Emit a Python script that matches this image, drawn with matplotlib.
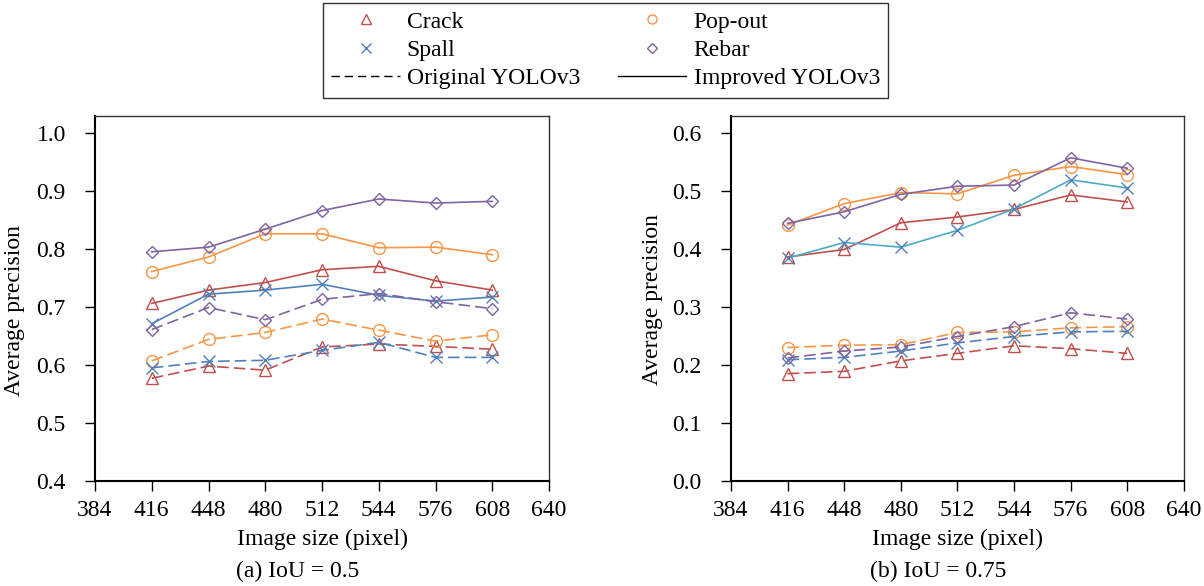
import matplotlib
matplotlib.use("Agg")
import matplotlib.pyplot as plt
from matplotlib.lines import Line2D

plt.rcParams['font.family'] = ['Liberation Serif', 'DejaVu Serif']

sizes = [416, 448, 480, 512, 544, 576, 608]
xticks = [384, 416, 448, 480, 512, 544, 576, 608, 640]

# IoU = 0.5
orig_05 = {
    "Crack":   [0.577, 0.598, 0.591, 0.631, 0.636, 0.632, 0.627],
    "Pop-out": [0.607, 0.644, 0.656, 0.679, 0.660, 0.641, 0.652],
    "Spall":   [0.595, 0.606, 0.608, 0.625, 0.639, 0.613, 0.613],
    "Rebar":   [0.661, 0.699, 0.678, 0.713, 0.723, 0.709, 0.697],
}
impr_05 = {
    "Crack":   [0.706, 0.729, 0.742, 0.764, 0.770, 0.745, 0.729],
    "Pop-out": [0.761, 0.786, 0.826, 0.826, 0.802, 0.803, 0.790],
    "Spall":   [0.671, 0.722, 0.729, 0.739, 0.720, 0.710, 0.717],
    "Rebar":   [0.795, 0.803, 0.834, 0.866, 0.886, 0.879, 0.882],
}

# IoU = 0.75
orig_075 = {
    "Crack":   [0.185, 0.189, 0.207, 0.220, 0.233, 0.228, 0.220],
    "Pop-out": [0.230, 0.234, 0.235, 0.256, 0.257, 0.264, 0.266],
    "Spall":   [0.209, 0.213, 0.224, 0.238, 0.249, 0.257, 0.258],
    "Rebar":   [0.212, 0.224, 0.231, 0.249, 0.266, 0.290, 0.279],
}
impr_075 = {
    "Crack":   [0.386, 0.399, 0.445, 0.455, 0.468, 0.493, 0.481],
    "Pop-out": [0.441, 0.478, 0.497, 0.495, 0.527, 0.542, 0.528],
    "Spall":   [0.384, 0.411, 0.403, 0.432, 0.469, 0.519, 0.505],
    "Rebar":   [0.444, 0.464, 0.494, 0.508, 0.510, 0.557, 0.539],
}

classes = ["Crack", "Pop-out", "Spall", "Rebar"]
colors = {"Crack": "#C0504D", "Pop-out": "#F79646", "Spall": "#4F81BD", "Rebar": "#8064A2"}
markers = {"Crack": "^", "Pop-out": "o", "Spall": "x", "Rebar": "D"}
msizes = {"Crack": 8, "Pop-out": 8.5, "Spall": 8, "Rebar": 6.5}

fig = plt.figure(figsize=(12.04, 5.86), dpi=100)
ax1 = fig.add_axes([0.0789, 0.1792, 0.3771, 0.6228])
ax2 = fig.add_axes([0.6071, 0.1792, 0.3762, 0.6228])


def draw(ax, orig, impr, solid_spall_color):
    for c in classes:
        col = colors[c]
        ax.plot(sizes, orig[c], linestyle=(0, (7, 3)), color=col, lw=1.2,
                marker=markers[c], ms=msizes[c], mfc="none", mec=col, mew=1.0)
        lc = solid_spall_color if c == "Spall" else col
        ax.plot(sizes, impr[c], linestyle="-", color=lc, lw=1.2,
                marker=markers[c], ms=msizes[c], mfc="none", mec=col, mew=1.0)
    ax.set_xlim(384, 640)
    ax.set_xticks(xticks)
    ax.tick_params(direction="out", length=7, width=1, labelsize=17)
    ax.tick_params(axis="x", pad=7)
    ax.tick_params(axis="y", pad=14)
    ax.set_xlabel("Image size (pixel)", fontsize=17, labelpad=5)
    ax.set_ylabel("Average precision", fontsize=17)
    for s in ["left", "bottom"]:
        ax.spines[s].set_linewidth(1.5)
    for s in ["top", "right"]:
        ax.spines[s].set_linewidth(1.0)
        ax.spines[s].set_color("#333333")


draw(ax1, orig_05, impr_05, colors["Spall"])
ax1.set_ylim(0.4, 1.029)
ax1.set_yticks([0.4, 0.5, 0.6, 0.7, 0.8, 0.9, 1.0])
ax1.set_yticklabels(["0.4", "0.5", "0.6", "0.7", "0.8", "0.9", "1.0"])
ax1.yaxis.set_label_coords(-0.154, 0.466)

draw(ax2, orig_075, impr_075, "#4BACC6")
ax2.set_ylim(0.0, 0.629)
ax2.set_yticks([0.0, 0.1, 0.2, 0.3, 0.4, 0.5, 0.6])
ax2.set_yticklabels(["0.0", "0.1", "0.2", "0.3", "0.4", "0.5", "0.6"])
ax2.yaxis.set_label_coords(-0.150, 0.496)

fig.text(0.247, 0.024, "(a) IoU = 0.5", ha="center", va="center", fontsize=17)
fig.text(0.779, 0.024, "(b) IoU = 0.75", ha="center", va="center", fontsize=17)

handles = [
    Line2D([], [], ls="none", marker="^", ms=6.5, mfc="none", mec=colors["Crack"], label="Crack"),
    Line2D([], [], ls="none", marker="x", ms=6.5, mec=colors["Spall"], label="Spall"),
    Line2D([], [], ls=(0, (6, 3.5)), color="black", lw=1.0, label="Original YOLOv3"),
    Line2D([], [], ls="none", marker="o", ms=6.5, mfc="none", mec=colors["Pop-out"], label="Pop-out"),
    Line2D([], [], ls="none", marker="D", ms=5, mfc="none", mec=colors["Rebar"], label="Rebar"),
    Line2D([], [], ls="-", color="black", lw=1.0, label="Improved YOLOv3"),
]
leg = fig.legend(handles=handles, loc="upper center", bbox_to_anchor=(0.503, 0.995),
                 ncol=2, fontsize=17, frameon=True, fancybox=False, edgecolor="black",
                 handlelength=2.9, columnspacing=1.6, labelspacing=0.29,
                 borderpad=0.35, handletextpad=0.3, borderaxespad=0)
leg.get_frame().set_linewidth(1.0)

fig.savefig("out.png", dpi=100)
